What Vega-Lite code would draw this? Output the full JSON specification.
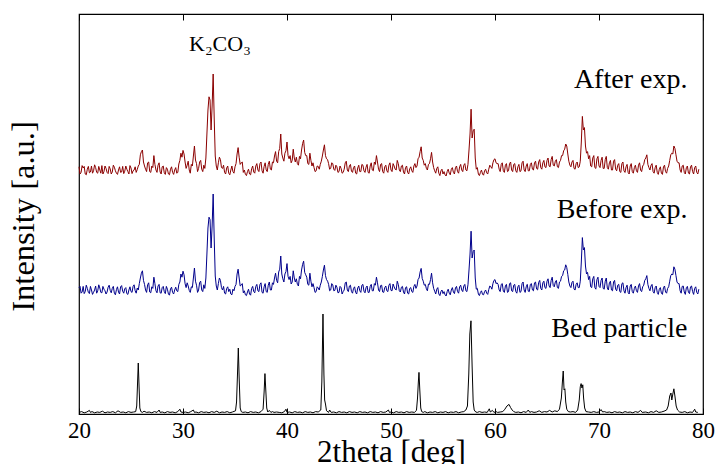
{
"$schema": "https://vega.github.io/schema/vega-lite/v6.json",
"width": 624, "height": 400,
"autosize": {"type": "none"},
"padding": {"left": 79, "top": 14, "right": 16, "bottom": 50},
"background": "white",
"config": {"view": {"stroke": "#000", "strokeWidth": 1.2}, "font": "Liberation Serif", "axis": {"labelFont": "Liberation Serif", "titleFont": "Liberation Serif"}},
"datasets": {
"xrd": [
{"x":20.0,"r":61.8,"b":31.6},{"x":20.2,"r":60.4,"b":30.2},{"x":20.4,"r":61.5,"b":31.9},{"x":20.6,"r":60.0,"b":30.6},{"x":20.8,"r":61.2,"b":31.4},
{"x":21.0,"r":60.3,"b":30.1},{"x":21.2,"r":62.0,"b":31.0},{"x":21.4,"r":60.8,"b":30.4},{"x":21.6,"r":61.6,"b":32.0},{"x":21.8,"r":60.2,"b":30.8},
{"x":22.0,"r":61.0,"b":31.5},{"x":22.2,"r":62.1,"b":30.3},{"x":22.4,"r":60.6,"b":31.2},{"x":22.6,"r":61.4,"b":30.0},{"x":22.8,"r":60.1,"b":31.7},
{"x":23.0,"r":61.3,"b":30.9},{"x":23.2,"r":60.5,"b":31.4},{"x":23.4,"r":61.7,"b":30.2},{"x":23.6,"r":60.2,"b":31.1},{"x":23.8,"r":61.0,"b":30.5},
{"x":24.0,"r":60.4,"b":31.8},{"x":24.2,"r":61.9,"b":30.7},{"x":24.4,"r":60.7,"b":31.3},{"x":24.6,"r":61.2,"b":30.1},{"x":24.8,"r":60.0,"b":31.0},
{"x":25.0,"r":61.5,"b":30.6},{"x":25.2,"r":60.8,"b":31.9},{"x":25.4,"r":61.8,"b":30.8},{"x":25.6,"r":61.1,"b":31.5},{"x":25.8,"r":62.4,"b":32.6},
{"x":26.0,"r":65.6,"b":35.2},{"x":26.1,"r":66.0,"b":35.8},{"x":26.2,"r":63.0,"b":33.4},{"x":26.4,"r":61.2,"b":31.0},{"x":26.6,"r":62.8,"b":32.3},
{"x":26.8,"r":60.6,"b":30.5},{"x":27.0,"r":62.0,"b":31.8},{"x":27.2,"r":64.6,"b":34.2},{"x":27.4,"r":61.0,"b":30.8},{"x":27.6,"r":62.2,"b":32.0},
{"x":27.8,"r":60.5,"b":30.3},{"x":28.0,"r":61.8,"b":31.6},{"x":28.2,"r":60.3,"b":30.6},{"x":28.4,"r":61.6,"b":31.9},{"x":28.6,"r":60.0,"b":30.0},
{"x":28.8,"r":61.2,"b":31.3},{"x":29.0,"r":60.4,"b":30.4},{"x":29.2,"r":61.0,"b":31.0},{"x":29.4,"r":60.2,"b":30.8},{"x":29.6,"r":62.5,"b":32.4},
{"x":29.8,"r":65.2,"b":35.0},{"x":30.0,"r":65.9,"b":35.7},{"x":30.2,"r":63.0,"b":32.6},{"x":30.4,"r":62.2,"b":32.8},{"x":30.6,"r":61.0,"b":30.9},
{"x":30.8,"r":62.4,"b":31.8},{"x":31.0,"r":64.5,"b":34.0},{"x":31.1,"r":67.0,"b":36.5},{"x":31.2,"r":63.5,"b":33.2},{"x":31.4,"r":60.6,"b":30.4},
{"x":31.6,"r":63.0,"b":32.9},{"x":31.8,"r":61.2,"b":31.0},{"x":32.0,"r":62.2,"b":32.3},{"x":32.2,"r":64.0,"b":34.0},{"x":32.3,"r":70.0,"b":40.0},
{"x":32.4,"r":76.0,"b":46.5},{"x":32.5,"r":79.3,"b":49.2},{"x":32.6,"r":78.5,"b":48.6},{"x":32.7,"r":71.0,"b":41.5},{"x":32.8,"r":77.0,"b":47.0},
{"x":32.9,"r":85.0,"b":55.0},{"x":33.0,"r":74.0,"b":44.0},{"x":33.1,"r":64.5,"b":34.5},{"x":33.2,"r":62.0,"b":32.0},{"x":33.4,"r":62.8,"b":32.6},
{"x":33.6,"r":63.6,"b":33.4},{"x":33.8,"r":61.4,"b":31.0},{"x":34.0,"r":60.4,"b":30.2},{"x":34.2,"r":61.5,"b":31.4},{"x":34.4,"r":60.2,"b":30.6},
{"x":34.6,"r":61.0,"b":30.0},{"x":34.8,"r":60.6,"b":31.2},{"x":35.0,"r":61.8,"b":31.9},{"x":35.2,"r":65.0,"b":35.0},{"x":35.3,"r":66.6,"b":36.2},
{"x":35.4,"r":64.2,"b":34.0},{"x":35.6,"r":62.8,"b":32.2},{"x":35.8,"r":60.4,"b":30.3},{"x":36.0,"r":59.9,"b":29.8},{"x":36.2,"r":60.6,"b":30.5},
{"x":36.4,"r":60.0,"b":30.0},{"x":36.6,"r":61.3,"b":31.4},{"x":36.8,"r":60.5,"b":30.6},{"x":37.0,"r":62.0,"b":31.9},{"x":37.2,"r":61.0,"b":30.8},
{"x":37.4,"r":62.6,"b":32.4},{"x":37.6,"r":60.8,"b":30.4},{"x":37.8,"r":61.9,"b":31.8},{"x":38.0,"r":61.0,"b":30.6},{"x":38.2,"r":62.4,"b":32.2},
{"x":38.4,"r":61.2,"b":31.0},{"x":38.6,"r":63.0,"b":32.8},{"x":38.8,"r":64.5,"b":34.0},{"x":39.0,"r":63.2,"b":33.4},{"x":39.2,"r":65.6,"b":35.5},
{"x":39.4,"r":70.0,"b":39.5},{"x":39.6,"r":64.0,"b":33.8},{"x":39.8,"r":65.2,"b":35.0},{"x":40.0,"r":68.0,"b":37.6},{"x":40.2,"r":63.8,"b":33.6},
{"x":40.4,"r":62.8,"b":32.5},{"x":40.6,"r":66.2,"b":35.8},{"x":40.8,"r":63.0,"b":33.0},{"x":41.0,"r":62.6,"b":32.4},{"x":41.2,"r":64.4,"b":34.4},
{"x":41.4,"r":66.0,"b":36.0},{"x":41.6,"r":68.5,"b":38.2},{"x":41.8,"r":64.6,"b":34.8},{"x":42.0,"r":62.6,"b":32.4},{"x":42.2,"r":65.2,"b":35.2},
{"x":42.4,"r":62.0,"b":31.8},{"x":42.6,"r":61.6,"b":31.6},{"x":42.8,"r":60.8,"b":30.6},{"x":43.0,"r":61.9,"b":31.5},{"x":43.2,"r":62.4,"b":32.2},
{"x":43.4,"r":64.5,"b":34.4},{"x":43.6,"r":67.3,"b":37.2},{"x":43.8,"r":63.8,"b":33.6},{"x":44.0,"r":62.6,"b":32.4},{"x":44.2,"r":61.4,"b":31.0},
{"x":44.4,"r":62.6,"b":32.3},{"x":44.6,"r":60.9,"b":30.9},{"x":44.8,"r":61.8,"b":31.7},{"x":45.0,"r":60.6,"b":30.4},{"x":45.2,"r":61.4,"b":31.6},
{"x":45.4,"r":60.4,"b":30.6},{"x":45.6,"r":62.8,"b":32.8},{"x":45.8,"r":61.0,"b":31.0},{"x":46.0,"r":62.0,"b":32.0},{"x":46.2,"r":60.7,"b":30.6},
{"x":46.4,"r":61.6,"b":31.4},{"x":46.6,"r":60.2,"b":30.4},{"x":46.8,"r":61.5,"b":31.5},{"x":47.0,"r":60.6,"b":30.8},{"x":47.2,"r":62.4,"b":32.2},
{"x":47.4,"r":60.8,"b":30.7},{"x":47.6,"r":61.7,"b":31.6},{"x":47.8,"r":60.4,"b":30.4},{"x":48.0,"r":62.0,"b":31.9},{"x":48.2,"r":61.0,"b":30.8},
{"x":48.4,"r":63.0,"b":32.6},{"x":48.6,"r":64.6,"b":34.2},{"x":48.8,"r":61.2,"b":31.0},{"x":49.0,"r":62.4,"b":32.1},{"x":49.2,"r":60.6,"b":30.5},
{"x":49.4,"r":61.8,"b":31.6},{"x":49.6,"r":60.8,"b":30.8},{"x":49.8,"r":62.2,"b":32.2},{"x":50.0,"r":61.0,"b":30.9},{"x":50.2,"r":62.6,"b":32.5},
{"x":50.4,"r":61.2,"b":31.2},{"x":50.6,"r":63.4,"b":33.2},{"x":50.8,"r":61.0,"b":30.8},{"x":51.0,"r":62.0,"b":31.7},{"x":51.2,"r":60.5,"b":30.5},
{"x":51.4,"r":61.6,"b":31.6},{"x":51.6,"r":60.4,"b":30.2},{"x":51.8,"r":61.3,"b":31.4},{"x":52.0,"r":60.8,"b":30.6},{"x":52.2,"r":62.0,"b":31.9},
{"x":52.4,"r":61.6,"b":31.4},{"x":52.6,"r":63.8,"b":33.6},{"x":52.8,"r":65.6,"b":35.5},{"x":52.9,"r":66.8,"b":36.4},{"x":53.0,"r":64.0,"b":33.9},
{"x":53.2,"r":62.2,"b":32.2},{"x":53.4,"r":61.4,"b":31.3},{"x":53.6,"r":62.4,"b":32.5},{"x":53.8,"r":63.8,"b":33.6},{"x":53.9,"r":65.4,"b":35.2},
{"x":54.0,"r":63.0,"b":32.8},{"x":54.2,"r":60.8,"b":30.7},{"x":54.4,"r":61.4,"b":31.2},{"x":54.6,"r":60.2,"b":30.0},{"x":54.8,"r":60.8,"b":30.6},
{"x":55.0,"r":60.0,"b":30.1},{"x":55.2,"r":59.8,"b":29.8},{"x":55.4,"r":60.6,"b":30.6},{"x":55.6,"r":60.2,"b":30.2},{"x":55.8,"r":61.2,"b":31.0},
{"x":56.0,"r":60.4,"b":30.5},{"x":56.2,"r":61.6,"b":31.5},{"x":56.4,"r":60.6,"b":30.6},{"x":56.6,"r":61.8,"b":31.8},{"x":56.8,"r":61.0,"b":31.0},
{"x":57.0,"r":62.2,"b":32.0},{"x":57.2,"r":61.0,"b":30.8},{"x":57.4,"r":62.4,"b":32.3},{"x":57.5,"r":66.0,"b":36.0},{"x":57.6,"r":70.0,"b":40.0},
{"x":57.7,"r":76.2,"b":45.7},{"x":57.8,"r":69.0,"b":39.0},{"x":57.9,"r":70.8,"b":40.6},{"x":58.0,"r":71.2,"b":41.0},{"x":58.1,"r":64.0,"b":34.0},
{"x":58.2,"r":61.2,"b":31.2},{"x":58.4,"r":60.0,"b":30.0},{"x":58.6,"r":60.4,"b":30.4},{"x":58.8,"r":60.0,"b":29.9},{"x":59.0,"r":60.8,"b":30.6},
{"x":59.2,"r":60.3,"b":30.2},{"x":59.4,"r":61.2,"b":31.1},{"x":59.6,"r":61.8,"b":31.8},{"x":59.8,"r":62.8,"b":32.6},{"x":60.0,"r":63.8,"b":33.6},
{"x":60.2,"r":62.6,"b":32.8},{"x":60.4,"r":61.2,"b":31.0},{"x":60.6,"r":62.4,"b":32.4},{"x":60.8,"r":60.8,"b":30.7},{"x":61.0,"r":62.2,"b":32.0},
{"x":61.2,"r":60.6,"b":30.4},{"x":61.4,"r":62.6,"b":32.6},{"x":61.6,"r":61.0,"b":30.8},{"x":61.8,"r":62.4,"b":32.2},{"x":62.0,"r":60.8,"b":30.6},
{"x":62.2,"r":61.8,"b":31.8},{"x":62.4,"r":60.6,"b":30.4},{"x":62.6,"r":62.8,"b":32.6},{"x":62.8,"r":61.0,"b":31.0},{"x":63.0,"r":62.0,"b":31.8},
{"x":63.2,"r":60.8,"b":30.7},{"x":63.4,"r":62.4,"b":32.4},{"x":63.6,"r":61.2,"b":31.0},{"x":63.8,"r":62.8,"b":32.8},{"x":64.0,"r":61.4,"b":31.2},
{"x":64.2,"r":63.0,"b":32.9},{"x":64.4,"r":61.6,"b":31.4},{"x":64.6,"r":62.8,"b":32.8},{"x":64.8,"r":61.8,"b":31.6},{"x":65.0,"r":63.4,"b":33.2},
{"x":65.2,"r":62.0,"b":32.0},{"x":65.4,"r":63.6,"b":33.4},{"x":65.6,"r":62.2,"b":32.1},{"x":65.8,"r":63.2,"b":33.0},{"x":66.0,"r":61.8,"b":31.6},
{"x":66.2,"r":63.0,"b":33.0},{"x":66.4,"r":64.6,"b":34.4},{"x":66.6,"r":65.8,"b":35.8},{"x":66.8,"r":67.5,"b":37.3},{"x":67.0,"r":65.0,"b":34.9},
{"x":67.2,"r":62.2,"b":32.0},{"x":67.4,"r":63.0,"b":32.9},{"x":67.6,"r":61.4,"b":31.2},{"x":67.8,"r":62.6,"b":32.4},{"x":68.0,"r":61.6,"b":31.6},
{"x":68.2,"r":63.2,"b":33.2},{"x":68.3,"r":68.0,"b":38.0},{"x":68.4,"r":74.4,"b":44.1},{"x":68.5,"r":71.0,"b":41.0},{"x":68.6,"r":71.6,"b":41.6},
{"x":68.7,"r":67.0,"b":37.0},{"x":68.8,"r":65.2,"b":35.0},{"x":69.0,"r":63.8,"b":33.6},{"x":69.2,"r":62.0,"b":31.8},{"x":69.4,"r":64.0,"b":33.8},
{"x":69.6,"r":61.6,"b":31.6},{"x":69.8,"r":63.8,"b":33.6},{"x":70.0,"r":62.0,"b":31.9},{"x":70.2,"r":63.4,"b":33.4},{"x":70.4,"r":61.4,"b":31.4},
{"x":70.6,"r":63.6,"b":33.2},{"x":70.8,"r":61.6,"b":31.5},{"x":71.0,"r":62.8,"b":32.8},{"x":71.2,"r":61.0,"b":31.0},{"x":71.4,"r":63.2,"b":33.0},
{"x":71.6,"r":61.2,"b":31.2},{"x":71.8,"r":62.2,"b":32.2},{"x":72.0,"r":60.6,"b":30.6},{"x":72.2,"r":62.6,"b":32.6},{"x":72.4,"r":60.8,"b":30.8},
{"x":72.6,"r":61.8,"b":31.6},{"x":72.8,"r":60.4,"b":30.4},{"x":73.0,"r":62.0,"b":32.0},{"x":73.2,"r":60.6,"b":30.6},{"x":73.4,"r":61.6,"b":31.4},
{"x":73.6,"r":60.8,"b":30.8},{"x":73.8,"r":62.2,"b":32.0},{"x":74.0,"r":61.0,"b":30.9},{"x":74.2,"r":62.0,"b":31.8},{"x":74.4,"r":63.6,"b":33.4},
{"x":74.6,"r":64.8,"b":34.6},{"x":74.8,"r":61.6,"b":31.4},{"x":75.0,"r":62.2,"b":32.0},{"x":75.2,"r":60.6,"b":30.6},{"x":75.4,"r":61.6,"b":31.6},
{"x":75.6,"r":60.4,"b":30.4},{"x":75.8,"r":61.2,"b":31.2},{"x":76.0,"r":60.2,"b":30.2},{"x":76.2,"r":61.8,"b":31.6},{"x":76.4,"r":60.6,"b":30.5},
{"x":76.6,"r":61.4,"b":31.4},{"x":76.8,"r":63.4,"b":33.2},{"x":77.0,"r":65.2,"b":35.0},{"x":77.2,"r":67.0,"b":36.8},{"x":77.4,"r":64.8,"b":34.6},
{"x":77.6,"r":62.8,"b":32.6},{"x":77.8,"r":61.0,"b":30.8},{"x":78.0,"r":62.0,"b":31.9},{"x":78.2,"r":60.4,"b":30.5},{"x":78.4,"r":61.6,"b":31.6},
{"x":78.6,"r":60.2,"b":30.4},{"x":78.8,"r":61.8,"b":31.8},{"x":79.0,"r":60.6,"b":30.6},{"x":79.2,"r":61.6,"b":31.4},{"x":79.4,"r":60.4,"b":30.4},
{"x":79.6,"r":61.2,"b":31.2},
{"x":20.1,"r":60.0,"b":31.9},{"x":20.3,"r":62.1,"b":30.5},{"x":20.5,"r":61.9,"b":30.1},{"x":20.7,"r":59.8,"b":32.2},{"x":20.9,"r":61.9,"b":30.4},
{"x":21.1,"r":60.5,"b":31.9},{"x":21.3,"r":60.2,"b":29.9},{"x":21.5,"r":62.3,"b":31.0},{"x":21.7,"r":60.4,"b":30.2},{"x":21.9,"r":61.9,"b":32.3},
{"x":22.1,"r":60.2,"b":30.4},{"x":22.3,"r":60.0,"b":31.9},{"x":22.5,"r":62.0,"b":30.8},{"x":22.7,"r":60.4,"b":30.5},{"x":22.9,"r":61.9,"b":32.2},
{"x":23.1,"r":60.0,"b":30.3},{"x":23.3,"r":62.2,"b":31.9},{"x":23.5,"r":60.8,"b":29.8},{"x":23.7,"r":59.9,"b":31.8},{"x":23.9,"r":61.8,"b":30.0},
{"x":24.1,"r":60.5,"b":32.1},{"x":24.3,"r":60.1,"b":30.2},{"x":24.5,"r":62.0,"b":31.6},{"x":24.7,"r":60.6,"b":29.9},{"x":24.9,"r":62.1,"b":31.8},
{"x":25.1,"r":60.1,"b":30.4},{"x":25.3,"r":61.0,"b":32.3},{"x":25.5,"r":60.4,"b":30.2},{"x":25.7,"r":62.0,"b":31.0},{"x":25.9,"r":64.8,"b":34.0},
{"x":26.3,"r":62.0,"b":32.4},{"x":26.5,"r":60.6,"b":30.4},{"x":26.7,"r":63.0,"b":32.8},{"x":26.9,"r":60.4,"b":30.3},{"x":27.1,"r":61.6,"b":31.4},
{"x":27.3,"r":62.4,"b":32.6},{"x":27.5,"r":60.4,"b":30.3},{"x":27.7,"r":62.8,"b":32.4},{"x":27.9,"r":60.0,"b":30.2},{"x":28.1,"r":62.0,"b":31.9},
{"x":28.3,"r":59.9,"b":30.1},{"x":28.5,"r":61.2,"b":31.2},{"x":28.7,"r":59.8,"b":29.7},{"x":28.9,"r":61.8,"b":31.7},{"x":29.1,"r":59.9,"b":30.0},
{"x":29.3,"r":61.6,"b":31.7},{"x":29.5,"r":60.4,"b":30.6},{"x":29.7,"r":63.4,"b":33.0},{"x":29.9,"r":64.2,"b":34.2},{"x":30.1,"r":65.0,"b":34.8},
{"x":30.3,"r":61.4,"b":31.6},{"x":30.5,"r":63.2,"b":32.0},{"x":30.7,"r":60.2,"b":30.4},{"x":30.9,"r":62.0,"b":31.6},{"x":31.3,"r":62.6,"b":32.2},
{"x":31.5,"r":61.4,"b":31.0},{"x":31.7,"r":63.4,"b":33.2},{"x":31.9,"r":60.6,"b":30.6},{"x":32.1,"r":61.4,"b":31.4},{"x":33.3,"r":61.0,"b":31.0},
{"x":33.5,"r":64.2,"b":34.0},{"x":33.7,"r":61.6,"b":31.6},{"x":33.9,"r":62.2,"b":31.9},{"x":34.1,"r":60.0,"b":30.0},{"x":34.3,"r":62.0,"b":31.8},
{"x":34.5,"r":59.8,"b":31.2},{"x":34.7,"r":62.0,"b":29.8},{"x":34.9,"r":60.2,"b":30.8},{"x":35.1,"r":62.6,"b":32.4},{"x":35.5,"r":62.4,"b":32.0},
{"x":35.7,"r":63.0,"b":32.6},{"x":35.9,"r":61.0,"b":30.8},{"x":36.1,"r":59.6,"b":29.6},{"x":36.3,"r":61.2,"b":31.2},{"x":36.5,"r":59.8,"b":29.7},
{"x":36.7,"r":62.0,"b":31.9},{"x":36.9,"r":60.2,"b":30.3},{"x":37.1,"r":62.6,"b":32.4},{"x":37.3,"r":60.6,"b":30.6},{"x":37.5,"r":63.0,"b":32.8},
{"x":37.7,"r":60.2,"b":30.2},{"x":37.9,"r":62.8,"b":32.6},{"x":38.1,"r":60.6,"b":30.4},{"x":38.3,"r":63.2,"b":33.0},{"x":38.5,"r":61.0,"b":31.0},
{"x":38.7,"r":62.8,"b":32.4},{"x":38.9,"r":65.6,"b":35.2},{"x":39.1,"r":62.8,"b":32.8},{"x":39.3,"r":66.4,"b":36.2},{"x":39.5,"r":65.0,"b":35.0},
{"x":39.7,"r":63.2,"b":33.0},{"x":39.9,"r":65.8,"b":35.6},{"x":40.1,"r":64.6,"b":34.4},{"x":40.3,"r":64.6,"b":34.4},{"x":40.5,"r":63.4,"b":33.0},
{"x":40.7,"r":64.0,"b":34.0},{"x":40.9,"r":64.2,"b":33.8},{"x":41.1,"r":62.2,"b":32.0},{"x":41.3,"r":63.8,"b":33.8},{"x":41.5,"r":67.6,"b":37.4},
{"x":41.7,"r":65.4,"b":35.4},{"x":41.9,"r":64.6,"b":34.2},{"x":42.1,"r":62.4,"b":32.2},{"x":42.3,"r":63.4,"b":33.2},{"x":42.5,"r":62.8,"b":32.6},
{"x":42.7,"r":60.6,"b":30.4},{"x":42.9,"r":62.0,"b":31.8},{"x":43.1,"r":61.2,"b":31.0},{"x":43.3,"r":63.2,"b":33.0},{"x":43.5,"r":66.0,"b":36.0},
{"x":43.7,"r":64.6,"b":34.6},{"x":43.9,"r":63.6,"b":33.2},{"x":44.1,"r":61.2,"b":30.8},{"x":44.3,"r":62.8,"b":32.6},{"x":44.5,"r":61.2,"b":30.8},
{"x":44.7,"r":62.2,"b":32.2},{"x":44.9,"r":60.4,"b":30.3},{"x":45.1,"r":62.0,"b":31.9},{"x":45.3,"r":60.2,"b":30.0},{"x":45.5,"r":61.2,"b":31.0},
{"x":45.7,"r":63.2,"b":33.0},{"x":45.9,"r":60.6,"b":30.6},{"x":46.1,"r":62.4,"b":32.2},{"x":46.3,"r":60.4,"b":30.2},{"x":46.5,"r":62.0,"b":31.8},
{"x":46.7,"r":60.0,"b":30.0},{"x":46.9,"r":62.2,"b":32.0},{"x":47.1,"r":60.6,"b":30.4},{"x":47.3,"r":62.2,"b":32.4},{"x":47.5,"r":60.4,"b":30.3},
{"x":47.7,"r":62.4,"b":32.0},{"x":47.9,"r":60.2,"b":30.4},{"x":48.1,"r":62.8,"b":32.4},{"x":48.3,"r":60.8,"b":30.8},{"x":48.5,"r":62.4,"b":32.2},
{"x":48.7,"r":63.0,"b":32.8},{"x":48.9,"r":60.6,"b":30.6},{"x":49.1,"r":62.6,"b":32.2},{"x":49.3,"r":60.2,"b":30.4},{"x":49.5,"r":62.2,"b":32.0},
{"x":49.7,"r":60.4,"b":30.6},{"x":49.9,"r":62.8,"b":32.6},{"x":50.1,"r":60.6,"b":30.8},{"x":50.3,"r":62.0,"b":31.8},{"x":50.5,"r":61.0,"b":31.0},
{"x":50.7,"r":62.6,"b":32.4},{"x":50.9,"r":60.6,"b":30.5},{"x":51.1,"r":62.2,"b":31.9},{"x":51.3,"r":60.0,"b":30.0},{"x":51.5,"r":62.0,"b":31.8},
{"x":51.7,"r":60.0,"b":30.0},{"x":51.9,"r":61.8,"b":31.6},{"x":52.1,"r":60.4,"b":30.4},{"x":52.3,"r":62.6,"b":32.4},{"x":52.5,"r":62.0,"b":32.0},
{"x":52.7,"r":64.2,"b":34.0},{"x":53.1,"r":63.4,"b":33.2},{"x":53.3,"r":62.6,"b":32.4},{"x":53.5,"r":61.0,"b":30.8},{"x":53.7,"r":62.6,"b":32.4},
{"x":54.1,"r":61.6,"b":31.4},{"x":54.3,"r":60.2,"b":30.0},{"x":54.5,"r":61.8,"b":31.6},{"x":54.7,"r":59.6,"b":29.6},{"x":54.9,"r":61.2,"b":31.0},
{"x":55.1,"r":60.6,"b":30.6},{"x":55.3,"r":59.5,"b":29.5},{"x":55.5,"r":61.2,"b":31.2},{"x":55.7,"r":59.8,"b":29.8},{"x":55.9,"r":61.6,"b":31.6},
{"x":56.1,"r":60.0,"b":30.1},{"x":56.3,"r":62.0,"b":31.9},{"x":56.5,"r":60.2,"b":30.2},{"x":56.7,"r":62.4,"b":32.2},{"x":56.9,"r":60.6,"b":30.6},
{"x":57.1,"r":62.6,"b":32.4},{"x":57.3,"r":60.8,"b":30.6},{"x":58.3,"r":61.6,"b":31.4},{"x":58.5,"r":59.6,"b":29.6},{"x":58.7,"r":61.0,"b":30.8},
{"x":58.9,"r":59.7,"b":29.8},{"x":59.1,"r":61.2,"b":31.0},{"x":59.3,"r":60.0,"b":29.9},{"x":59.5,"r":62.2,"b":32.0},{"x":59.7,"r":61.4,"b":31.2},
{"x":59.9,"r":63.6,"b":33.4},{"x":60.1,"r":62.8,"b":32.6},{"x":60.3,"r":62.6,"b":32.4},{"x":60.5,"r":60.6,"b":30.6},{"x":60.7,"r":62.8,"b":32.6},
{"x":60.9,"r":60.4,"b":30.4},{"x":61.1,"r":62.6,"b":32.4},{"x":61.3,"r":60.8,"b":30.6},{"x":61.5,"r":63.0,"b":32.8},{"x":61.7,"r":60.6,"b":30.6},
{"x":61.9,"r":62.6,"b":32.4},{"x":62.1,"r":60.4,"b":30.2},{"x":62.3,"r":62.4,"b":32.2},{"x":62.5,"r":60.8,"b":30.6},{"x":62.7,"r":63.2,"b":33.0},
{"x":62.9,"r":60.6,"b":30.4},{"x":63.1,"r":62.6,"b":32.4},{"x":63.3,"r":60.8,"b":30.6},{"x":63.5,"r":62.8,"b":32.6},{"x":63.7,"r":61.0,"b":30.8},
{"x":63.9,"r":63.2,"b":33.0},{"x":64.1,"r":61.2,"b":31.0},{"x":64.3,"r":63.6,"b":33.4},{"x":64.5,"r":61.2,"b":31.0},{"x":64.7,"r":63.4,"b":33.2},
{"x":64.9,"r":61.6,"b":31.4},{"x":65.1,"r":64.0,"b":33.8},{"x":65.3,"r":61.8,"b":31.6},{"x":65.5,"r":64.4,"b":34.2},{"x":65.7,"r":62.0,"b":31.8},
{"x":65.9,"r":63.6,"b":33.4},{"x":66.1,"r":61.6,"b":31.4},{"x":66.3,"r":63.4,"b":33.2},{"x":66.5,"r":64.6,"b":34.6},{"x":66.7,"r":66.2,"b":36.0},
{"x":66.9,"r":67.0,"b":36.6},{"x":67.1,"r":63.2,"b":33.0},{"x":67.3,"r":61.8,"b":31.6},{"x":67.5,"r":63.4,"b":33.2},{"x":67.7,"r":61.2,"b":31.0},
{"x":67.9,"r":63.0,"b":32.8},{"x":68.1,"r":61.8,"b":31.6},{"x":68.9,"r":65.6,"b":35.4},{"x":69.1,"r":64.6,"b":34.4},{"x":69.3,"r":61.8,"b":31.6},
{"x":69.5,"r":64.6,"b":34.4},{"x":69.7,"r":61.4,"b":31.2},{"x":69.9,"r":64.4,"b":34.2},{"x":70.1,"r":61.6,"b":31.6},{"x":70.3,"r":64.2,"b":34.0},
{"x":70.5,"r":61.4,"b":31.2},{"x":70.7,"r":64.4,"b":34.0},{"x":70.9,"r":61.2,"b":31.0},{"x":71.1,"r":63.4,"b":33.2},{"x":71.3,"r":61.0,"b":30.8},
{"x":71.5,"r":63.6,"b":33.4},{"x":71.7,"r":60.8,"b":30.8},{"x":71.9,"r":62.6,"b":32.4},{"x":72.1,"r":60.4,"b":30.4},{"x":72.3,"r":63.0,"b":32.8},
{"x":72.5,"r":60.4,"b":30.2},{"x":72.7,"r":62.4,"b":32.2},{"x":72.9,"r":60.0,"b":30.0},{"x":73.1,"r":62.6,"b":32.4},{"x":73.3,"r":60.2,"b":30.2},
{"x":73.5,"r":62.2,"b":32.0},{"x":73.7,"r":60.4,"b":30.4},{"x":73.9,"r":62.8,"b":32.6},{"x":74.1,"r":60.6,"b":30.6},{"x":74.3,"r":62.4,"b":32.2},
{"x":74.5,"r":64.0,"b":33.8},{"x":74.7,"r":62.4,"b":32.4},{"x":74.9,"r":61.0,"b":30.8},{"x":75.1,"r":62.6,"b":32.4},{"x":75.3,"r":60.2,"b":30.2},
{"x":75.5,"r":62.2,"b":32.0},{"x":75.7,"r":59.9,"b":29.9},{"x":75.9,"r":61.8,"b":31.6},{"x":76.1,"r":59.9,"b":29.9},{"x":76.3,"r":62.2,"b":32.0},
{"x":76.5,"r":60.2,"b":30.2},{"x":76.7,"r":62.0,"b":31.8},{"x":76.9,"r":64.8,"b":34.6},{"x":77.1,"r":65.0,"b":34.8},{"x":77.3,"r":66.4,"b":36.2},
{"x":77.5,"r":63.2,"b":33.0},{"x":77.7,"r":62.8,"b":32.6},{"x":77.9,"r":60.4,"b":30.2},{"x":78.1,"r":62.2,"b":32.0},{"x":78.3,"r":60.0,"b":29.9},
{"x":78.5,"r":62.0,"b":31.9},{"x":78.7,"r":60.0,"b":30.1},{"x":78.9,"r":62.2,"b":32.0},{"x":79.1,"r":60.0,"b":29.9},{"x":79.3,"r":62.0,"b":31.8},
{"x":79.5,"r":60.0,"b":30.0}
],
"bed": [
{"x":20.0,"y":0.4},{"x":20.25,"y":0.6},{"x":20.5,"y":0.3},{"x":20.75,"y":0.5},{"x":21.0,"y":0.9},{"x":21.1,"y":0.4},{"x":21.25,"y":0.6},{"x":21.5,"y":0.3},
{"x":21.75,"y":0.5},{"x":22.0,"y":0.4},{"x":22.25,"y":0.7},{"x":22.5,"y":0.3},{"x":22.75,"y":0.5},{"x":23.0,"y":0.4},{"x":23.25,"y":0.6},{"x":23.5,"y":0.3},
{"x":23.75,"y":0.8},{"x":24.0,"y":0.4},{"x":24.25,"y":0.5},{"x":24.5,"y":0.3},{"x":24.75,"y":0.6},{"x":25.0,"y":0.4},{"x":25.25,"y":0.5},{"x":25.45,"y":0.6},
{"x":25.55,"y":2.0},{"x":25.62,"y":7.0},{"x":25.7,"y":12.75},{"x":25.78,"y":6.5},{"x":25.85,"y":1.5},{"x":25.95,"y":0.6},{"x":26.1,"y":0.4},{"x":26.25,"y":0.7},
{"x":26.5,"y":0.4},{"x":26.75,"y":0.5},{"x":27.0,"y":0.3},{"x":27.25,"y":0.6},{"x":27.5,"y":0.4},{"x":27.7,"y":1.0},{"x":27.8,"y":0.4},{"x":28.0,"y":0.5},
{"x":28.25,"y":0.3},{"x":28.5,"y":0.6},{"x":28.75,"y":0.4},{"x":29.0,"y":0.5},{"x":29.25,"y":0.3},{"x":29.5,"y":0.6},{"x":29.7,"y":1.2},{"x":29.8,"y":0.5},
{"x":30.0,"y":0.4},{"x":30.25,"y":0.5},{"x":30.5,"y":0.3},{"x":30.75,"y":0.6},{"x":31.0,"y":1.0},{"x":31.1,"y":0.4},{"x":31.25,"y":0.5},{"x":31.5,"y":0.3},
{"x":31.75,"y":0.6},{"x":32.0,"y":0.4},{"x":32.25,"y":0.5},{"x":32.5,"y":0.3},{"x":32.75,"y":0.6},{"x":33.0,"y":0.4},{"x":33.25,"y":0.7},{"x":33.5,"y":0.3},
{"x":33.75,"y":0.5},{"x":34.0,"y":0.4},{"x":34.25,"y":0.6},{"x":34.5,"y":0.3},{"x":34.75,"y":0.5},{"x":35.05,"y":0.8},{"x":35.15,"y":3.0},{"x":35.24,"y":10.0},
{"x":35.32,"y":16.5},{"x":35.4,"y":9.0},{"x":35.5,"y":1.5},{"x":35.6,"y":0.6},{"x":35.75,"y":0.4},{"x":36.0,"y":0.5},{"x":36.25,"y":0.3},{"x":36.5,"y":0.6},
{"x":36.75,"y":0.4},{"x":37.0,"y":0.5},{"x":37.25,"y":0.3},{"x":37.5,"y":0.6},{"x":37.7,"y":1.2},{"x":37.8,"y":5.5},{"x":37.88,"y":10.1},{"x":37.96,"y":6.0},
{"x":38.05,"y":1.5},{"x":38.15,"y":0.5},{"x":38.3,"y":0.9},{"x":38.45,"y":0.4},{"x":38.6,"y":0.6},{"x":38.75,"y":0.4},{"x":39.0,"y":0.5},{"x":39.25,"y":0.4},
{"x":39.5,"y":0.3},{"x":39.75,"y":0.6},{"x":39.9,"y":1.2},{"x":40.0,"y":0.4},{"x":40.25,"y":0.5},{"x":40.5,"y":0.3},{"x":40.75,"y":0.6},{"x":41.0,"y":0.4},
{"x":41.25,"y":0.5},{"x":41.5,"y":0.3},{"x":41.75,"y":0.6},{"x":42.0,"y":0.4},{"x":42.25,"y":0.5},{"x":42.5,"y":0.3},{"x":42.75,"y":0.6},{"x":43.0,"y":0.5},
{"x":43.25,"y":1.0},{"x":43.35,"y":8.0},{"x":43.46,"y":25.0},{"x":43.55,"y":10.0},{"x":43.62,"y":3.5},{"x":43.7,"y":2.5},{"x":43.8,"y":0.8},{"x":44.0,"y":0.4},
{"x":44.1,"y":1.0},{"x":44.25,"y":0.4},{"x":44.5,"y":0.5},{"x":44.75,"y":0.3},{"x":45.0,"y":0.6},{"x":45.25,"y":0.4},{"x":45.5,"y":0.5},{"x":45.75,"y":0.3},
{"x":46.0,"y":0.6},{"x":46.25,"y":0.4},{"x":46.5,"y":0.5},{"x":46.75,"y":0.3},{"x":47.0,"y":0.6},{"x":47.25,"y":0.4},{"x":47.5,"y":0.5},{"x":47.75,"y":0.3},
{"x":48.0,"y":0.6},{"x":48.25,"y":0.4},{"x":48.5,"y":0.5},{"x":48.75,"y":0.3},{"x":49.0,"y":0.6},{"x":49.25,"y":0.4},{"x":49.5,"y":0.5},{"x":49.75,"y":1.0},
{"x":49.85,"y":0.4},{"x":50.0,"y":0.5},{"x":50.25,"y":0.3},{"x":50.5,"y":0.6},{"x":50.75,"y":0.4},{"x":51.0,"y":0.5},{"x":51.25,"y":0.3},{"x":51.5,"y":0.6},
{"x":51.75,"y":0.4},{"x":52.0,"y":0.5},{"x":52.25,"y":0.4},{"x":52.45,"y":0.9},{"x":52.55,"y":4.0},{"x":52.63,"y":8.0},{"x":52.69,"y":10.4},{"x":52.77,"y":6.0},
{"x":52.86,"y":1.5},{"x":52.95,"y":0.6},{"x":53.1,"y":0.4},{"x":53.25,"y":0.6},{"x":53.5,"y":0.3},{"x":53.75,"y":0.5},{"x":54.0,"y":0.4},{"x":54.25,"y":0.6},
{"x":54.5,"y":0.3},{"x":54.75,"y":0.5},{"x":55.0,"y":0.4},{"x":55.25,"y":0.6},{"x":55.5,"y":0.3},{"x":55.75,"y":0.5},{"x":56.0,"y":0.4},{"x":56.25,"y":0.6},
{"x":56.5,"y":0.3},{"x":56.75,"y":0.5},{"x":57.0,"y":0.6},{"x":57.2,"y":1.0},{"x":57.35,"y":2.0},{"x":57.48,"y":10.0},{"x":57.58,"y":20.0},{"x":57.69,"y":23.3},
{"x":57.8,"y":12.0},{"x":57.9,"y":3.0},{"x":58.0,"y":1.0},{"x":58.15,"y":0.5},{"x":58.3,"y":0.4},{"x":58.5,"y":0.6},{"x":58.75,"y":0.4},{"x":59.0,"y":0.5},
{"x":59.25,"y":0.4},{"x":59.45,"y":1.3},{"x":59.55,"y":0.5},{"x":59.75,"y":0.9},{"x":59.9,"y":0.4},{"x":60.1,"y":0.6},{"x":60.25,"y":0.4},{"x":60.5,"y":0.5},
{"x":60.75,"y":0.6},{"x":60.95,"y":1.2},{"x":61.15,"y":2.0},{"x":61.35,"y":2.4},{"x":61.5,"y":1.6},{"x":61.65,"y":1.0},{"x":61.8,"y":0.6},{"x":62.0,"y":0.4},
{"x":62.25,"y":0.5},{"x":62.5,"y":0.3},{"x":62.75,"y":0.6},{"x":63.0,"y":0.4},{"x":63.2,"y":1.0},{"x":63.35,"y":0.4},{"x":63.5,"y":0.6},{"x":63.75,"y":0.4},
{"x":64.0,"y":0.5},{"x":64.25,"y":0.8},{"x":64.5,"y":0.4},{"x":64.75,"y":0.6},{"x":65.0,"y":0.5},{"x":65.25,"y":0.9},{"x":65.5,"y":0.5},{"x":65.75,"y":0.8},
{"x":66.0,"y":0.6},{"x":66.2,"y":1.2},{"x":66.38,"y":4.0},{"x":66.48,"y":8.0},{"x":66.56,"y":10.75},{"x":66.64,"y":6.0},{"x":66.72,"y":6.3},{"x":66.8,"y":3.0},
{"x":66.9,"y":1.2},{"x":67.05,"y":0.6},{"x":67.25,"y":0.5},{"x":67.5,"y":0.6},{"x":67.75,"y":0.4},{"x":67.95,"y":1.0},{"x":68.1,"y":3.5},{"x":68.2,"y":6.8},
{"x":68.28,"y":7.6},{"x":68.36,"y":6.5},{"x":68.44,"y":7.3},{"x":68.52,"y":4.0},{"x":68.62,"y":1.5},{"x":68.75,"y":0.6},{"x":69.0,"y":0.5},{"x":69.25,"y":0.4},
{"x":69.5,"y":0.6},{"x":69.75,"y":0.4},{"x":70.0,"y":0.5},{"x":70.2,"y":1.1},{"x":70.35,"y":0.5},{"x":70.5,"y":0.6},{"x":70.75,"y":0.4},{"x":71.0,"y":0.5},
{"x":71.25,"y":0.3},{"x":71.5,"y":0.6},{"x":71.75,"y":0.4},{"x":72.0,"y":0.5},{"x":72.25,"y":0.3},{"x":72.5,"y":0.6},{"x":72.75,"y":0.4},{"x":73.0,"y":0.5},
{"x":73.25,"y":0.3},{"x":73.5,"y":0.6},{"x":73.75,"y":0.4},{"x":74.0,"y":0.9},{"x":74.15,"y":0.4},{"x":74.5,"y":0.5},{"x":74.75,"y":0.3},{"x":75.0,"y":0.6},
{"x":75.25,"y":0.4},{"x":75.5,"y":0.8},{"x":75.75,"y":0.4},{"x":76.0,"y":0.5},{"x":76.25,"y":0.7},{"x":76.5,"y":1.0},{"x":76.65,"y":2.0},{"x":76.8,"y":4.5},
{"x":76.92,"y":5.25},{"x":77.0,"y":3.5},{"x":77.1,"y":5.0},{"x":77.2,"y":6.3},{"x":77.3,"y":4.5},{"x":77.42,"y":2.0},{"x":77.55,"y":1.0},{"x":77.75,"y":0.5},
{"x":78.0,"y":0.4},{"x":78.25,"y":0.6},{"x":78.5,"y":0.3},{"x":78.75,"y":0.5},{"x":79.0,"y":0.4},{"x":79.2,"y":1.2},{"x":79.3,"y":0.5},{"x":79.5,"y":0.4}
],
"labels": [
{"x":33.55,"y":90.8,"t":"K₂CO₃","k":"small"},
{"x":78.5,"y":81.4,"t":"After exp.","k":"big"},
{"x":78.5,"y":48.9,"t":"Before exp.","k":"big"},
{"x":78.5,"y":19.25,"t":"Bed particle","k":"big"}
]
},
"resolve": {"axis": {"x": "independent", "y": "independent"}},
"layer": [
{
"data": {"name": "xrd"},
"mark": {"type": "line", "color": "#8b0000", "strokeWidth": 1},
"encoding": {
"x": {"field": "x", "type": "quantitative", "scale": {"domain": [20, 80], "nice": false},
"axis": {"orient": "bottom", "values": [20,30,40,50,60,70,80], "labelFontSize": 23, "labelColor": "#000", "labelFont": "Liberation Serif", "labelFlush": false, "labelOverlap": false, "labelPadding": 11, "tickSize": -6, "tickColor": "#000", "domain": false, "grid": false, "title": "2theta [deg]", "titleFont": "Liberation Serif", "titleFontSize": 31, "titleFontWeight": "normal", "titleColor": "#000", "titlePadding": -5}},
"y": {"field": "r", "type": "quantitative", "scale": {"domain": [0, 100], "nice": false},
"axis": {"orient": "left", "labels": false, "ticks": false, "domain": false, "grid": false, "title": "Intensity [a.u.]", "titleFont": "Liberation Serif", "titleFontSize": 32.5, "titleFontWeight": "normal", "titleColor": "#000", "titleX": -46, "titleY": 202, "titleAngle": -90, "titleAlign": "center", "titleBaseline": "alphabetic"}}
}
},
{
"data": {"name": "xrd"},
"mark": {"type": "line", "color": "#00008b", "strokeWidth": 1},
"encoding": {
"x": {"field": "x", "type": "quantitative", "axis": null},
"y": {"field": "b", "type": "quantitative", "axis": null}
}
},
{
"data": {"name": "bed"},
"mark": {"type": "line", "color": "#000", "strokeWidth": 1},
"encoding": {
"x": {"field": "x", "type": "quantitative",
"axis": {"orient": "top", "values": [20,30,40,50,60,70,80], "labels": false, "tickSize": -6, "tickColor": "#000", "domain": false, "grid": false, "title": null}},
"y": {"field": "y", "type": "quantitative", "axis": null}
}
},
{
"data": {"name": "labels"},
"transform": [{"filter": "datum.k === 'big'"}],
"mark": {"type": "text", "align": "right", "baseline": "alphabetic", "fontSize": 28, "font": "Liberation Serif", "color": "#000"},
"encoding": {
"x": {"field": "x", "type": "quantitative", "axis": null},
"y": {"field": "y", "type": "quantitative", "axis": null},
"text": {"field": "t"}
}
},
{
"data": {"name": "labels"},
"transform": [{"filter": "datum.k === 'small'"}],
"mark": {"type": "text", "align": "center", "baseline": "alphabetic", "fontSize": 22, "font": "Liberation Serif", "color": "#000"},
"encoding": {
"x": {"field": "x", "type": "quantitative", "axis": null},
"y": {"field": "y", "type": "quantitative", "axis": null},
"text": {"field": "t"}
}
}
]
}
